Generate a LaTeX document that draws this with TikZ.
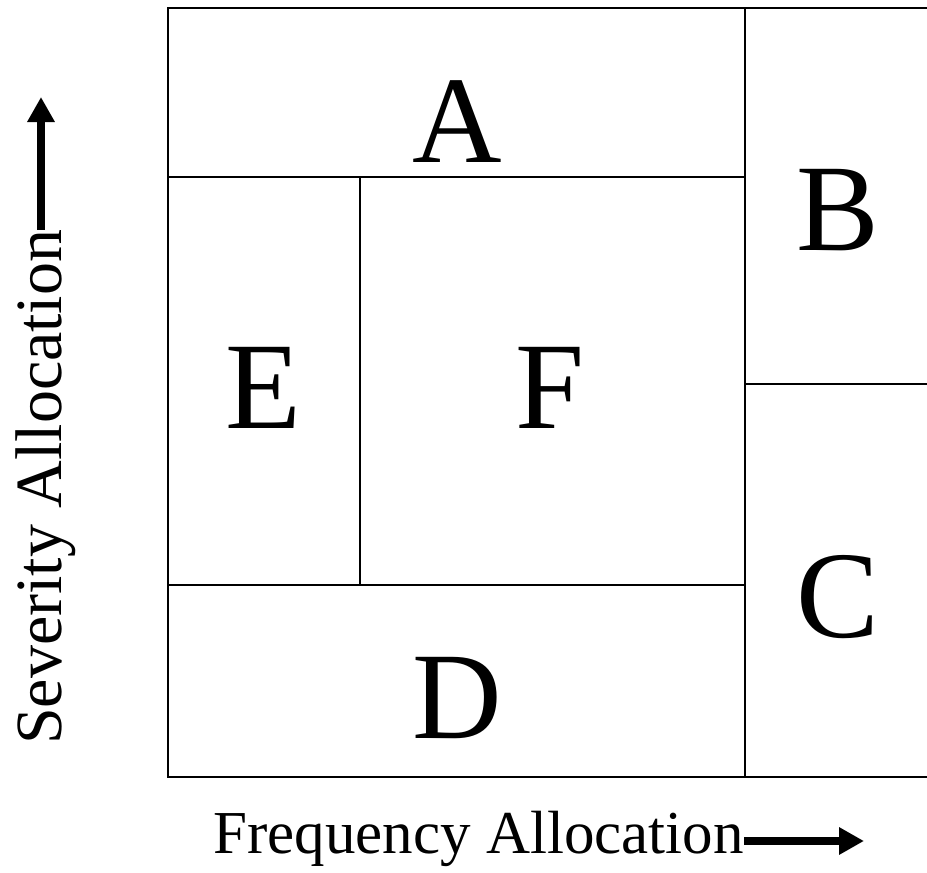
\documentclass[tikz,border=0pt]{standalone}
\usepackage{fontspec}
\setmainfont{Liberation Serif}
\usetikzlibrary{arrows.meta}
\begin{document}
\begin{tikzpicture}[x=1pt,y=-1pt,
  grid/.style={line width=2pt,line cap=rect},
  letter/.style={font=\fontsize{124}{124}\selectfont,anchor=base,inner sep=0pt},
  axislabel/.style={inner sep=0pt,anchor=base},
  axisarrow/.style={line width=8pt,-{Triangle[length=25pt,width=26pt]}}]
\useasboundingbox (0,0) rectangle (927,873);
\clip (0,0) rectangle (927,873);
% frame and partition lines
\coordinate (tl) at (168,8);
\coordinate (bl) at (168,777);
\draw[grid] (940,8) -- (tl) -- (bl) -- (940,777);
\draw[grid] (745,8) -- (745,777);
\draw[grid] (168,177) -- (745,177);
\draw[grid] (168,585) -- (745,585);
\draw[grid] (360,177) -- (360,585);
\draw[grid] (745,384) -- (940,384);
% region letters
\node[letter] (A) at (457,162) {A};
\node[letter] (B) at (838,250) {B};
\node[letter] (E) at (263,428) {E};
\node[letter] (F) at (550,428) {F};
\node[letter] (C) at (838,637) {C};
\node[letter] (D) at (457,738) {D};
% axis labels
\node[axislabel,font=\fontsize{61}{61}\selectfont,anchor=base east] (freq) at (744,853) {Frequency Allocation};
\coordinate (freqtip) at (864,841);
\draw[axisarrow] (freq.east |- freqtip) -- (freqtip);
\node[axislabel,font=\fontsize{66}{66}\selectfont,rotate=90,anchor=base west] (sev) at (61,745) {Severity Allocation};
\coordinate (sevtip) at (41,97);
\draw[axisarrow] (sevtip |- sev.east) -- (sevtip);
\end{tikzpicture}
\end{document}
